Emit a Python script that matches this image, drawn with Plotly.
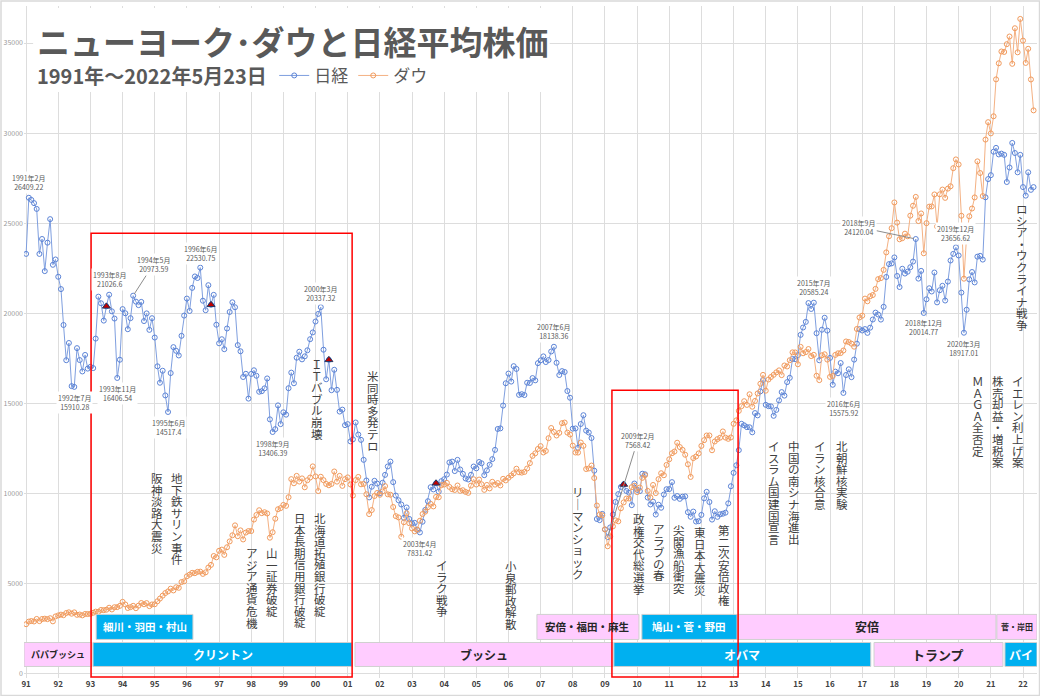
import pandas as pd
import plotly.graph_objects as go

# 月末終値 1991年1月〜2022年5月
months = pd.date_range("1991-01-01", "2022-05-01", freq="MS")

nikkei = [
    23293, 26409, 26292, 26111, 25790, 23291, 24121, 22336, 23916, 25222, 22687, 22984,
    22023, 21339, 19346, 17391, 18348, 15952, 15910, 18061, 17399, 16767, 17684, 16925,
    17024, 16953, 18591, 20919, 20552, 19590, 20380, 21027, 20106, 19704, 16407, 17417,
    20229, 19997, 19112, 19725, 20974, 20644, 20449, 20629, 19564, 19990, 19076, 19723,
    18650, 17053, 16140, 16807, 15437, 14517, 16678, 18117, 17913, 17655, 18744, 19868,
    20813, 20125, 21407, 22041, 21956, 22531, 20693, 20167, 21556, 20467, 21020, 19361,
    18330, 18557, 18003, 19151, 20069, 20605, 20331, 18229, 17888, 16459, 16636, 15259,
    16628, 16832, 16527, 15641, 15671, 15830, 16379, 14108, 13406, 13564, 14884, 13842,
    14499, 14368, 15837, 16702, 16112, 17530, 17862, 17437, 17606, 17942, 18558, 18934,
    19540, 19960, 20337, 17974, 16332, 17411, 15727, 16861, 15747, 14540, 14649, 13786,
    13844, 12884, 12999, 13934, 13262, 12969, 11861, 10714, 9775, 10367, 10697, 10543,
    9998, 10588, 11025, 11493, 11764, 10622, 9877, 9619, 9383, 8640, 9216, 8579,
    8340, 8363, 7973, 7831, 8425, 9083, 9563, 10344, 10219, 10560, 10101, 10677,
    10784, 11042, 11715, 11762, 11236, 11859, 11326, 11082, 10824, 10771, 11031, 11489,
    11388, 11741, 11669, 11009, 11277, 11584, 11900, 12414, 13574, 13607, 14872, 16111,
    16650, 16205, 17060, 16906, 15467, 15505, 15457, 16141, 16128, 16399, 16274, 17226,
    17383, 17604, 17288, 17400, 17876, 18138, 17249, 16569, 16786, 16737, 15681, 15308,
    13592, 13603, 12526, 13850, 14339, 13481, 13377, 13073, 11260, 8577, 8512, 8860,
    7994, 7568, 8110, 8828, 9523, 9958, 10357, 10493, 10133, 10035, 9346, 10546,
    10198, 10126, 11090, 11057, 9769, 9383, 9537, 8824, 9369, 9202, 9937, 10229,
    10238, 10624, 9755, 9850, 9694, 9816, 9833, 8955, 8700, 8988, 8435, 8455,
    8803, 9723, 10084, 9521, 8543, 9007, 8695, 8840, 8870, 8928, 9446, 10395,
    11139, 11559, 12398, 13861, 13775, 13677, 13668, 13389, 14456, 14328, 15662, 16291,
    14915, 14841, 14828, 14304, 14632, 15162, 15621, 15425, 16174, 16414, 17460, 17451,
    17674, 18798, 19207, 19520, 20563, 20236, 20585, 18890, 17388, 19083, 19747, 19034,
    17518, 16027, 16759, 16666, 17235, 15576, 16569, 16887, 16450, 17425, 18308, 19114,
    19041, 19119, 18909, 19197, 19651, 20033, 19925, 19646, 20356, 22012, 22725, 22765,
    23098, 22068, 21454, 22468, 22202, 22305, 22554, 22865, 24120, 21920, 22351, 20015,
    20773, 21385, 21206, 22259, 20601, 21276, 21522, 20704, 21756, 22927, 23294, 23657,
    23205, 21143, 18917, 20194, 21878, 22288, 21710, 23140, 23185, 22977, 26434, 27444,
    27663, 28966, 29179, 28813, 28860, 28792, 27284, 28090, 29453, 28893, 27822, 28792,
    27002, 26527, 27821, 26848, 27001,
]

dow = [
    2736, 2882, 2914, 2888, 3028, 2907, 3025, 3044, 3017, 3069, 2895, 3169,
    3224, 3268, 3236, 3359, 3397, 3319, 3394, 3257, 3272, 3226, 3305, 3301,
    3310, 3371, 3435, 3428, 3527, 3516, 3540, 3651, 3555, 3681, 3684, 3754,
    3978, 3832, 3636, 3682, 3758, 3625, 3765, 3913, 3843, 3908, 3739, 3834,
    3844, 4011, 4158, 4321, 4465, 4556, 4709, 4611, 4789, 4756, 5075, 5117,
    5395, 5486, 5588, 5569, 5643, 5655, 5529, 5616, 5882, 6029, 6522, 6448,
    6813, 6878, 6584, 7009, 7331, 7673, 8223, 7622, 7945, 7442, 7823, 7908,
    7907, 8546, 8800, 9063, 8900, 8952, 8883, 7539, 7843, 8592, 9117, 9181,
    9359, 9307, 9786, 10789, 10560, 10971, 10655, 10829, 10337, 10729, 10878, 11497,
    10941, 10128, 10922, 10734, 10522, 10448, 10522, 11215, 10651, 10971, 10415, 10788,
    10887, 10495, 9879, 10735, 10912, 10502, 10523, 9950, 8848, 9075, 9852, 10022,
    9920, 10106, 10404, 9946, 9925, 9243, 8737, 8664, 7592, 8397, 8896, 8342,
    8054, 7891, 7992, 8480, 8850, 8985, 9234, 9416, 9275, 9801, 9782, 10454,
    10488, 10584, 10358, 10226, 10188, 10435, 10140, 10174, 10080, 10027, 10428, 10783,
    10490, 10766, 10504, 10193, 10467, 10275, 10641, 10482, 10569, 10440, 10806, 10718,
    10865, 10993, 11109, 11367, 11168, 11150, 11186, 11381, 11679, 12081, 12222, 12463,
    12622, 12269, 12354, 13063, 13628, 13409, 13212, 13358, 13896, 13930, 13372, 13265,
    12650, 12266, 12263, 12820, 12638, 11350, 11378, 11544, 10851, 9325, 8829, 8776,
    8001, 7063, 7609, 8168, 8500, 8447, 9172, 9496, 9712, 9713, 10345, 10428,
    10067, 10325, 10857, 11009, 10137, 9774, 10466, 10015, 10788, 11118, 11006, 11578,
    11892, 12226, 12320, 12811, 12570, 12414, 12143, 11614, 10913, 11955, 12046, 12218,
    12633, 12952, 13212, 13214, 12393, 12880, 13009, 13091, 13437, 13096, 13026, 13104,
    13861, 14054, 14579, 14840, 15116, 14910, 15500, 14810, 15130, 15546, 16086, 16577,
    15699, 16322, 16458, 16581, 16717, 16827, 16563, 17098, 17043, 17391, 17828, 17823,
    17165, 18133, 17776, 17841, 18011, 17620, 17690, 16528, 16285, 17664, 17720, 17425,
    16466, 16517, 17685, 17774, 17787, 17930, 18432, 18401, 18308, 18142, 19124, 19763,
    19864, 20812, 20663, 20941, 21009, 21350, 21891, 21948, 22405, 23377, 24272, 24719,
    26149, 25029, 24103, 24163, 24416, 24271, 25415, 25965, 26458, 25116, 25538, 23327,
    24999, 25916, 25929, 26593, 24815, 26600, 26864, 26403, 26917, 27046, 28051, 28538,
    28256, 25409, 21917, 24346, 25383, 25813, 26428, 28430, 27782, 26502, 29639, 30606,
    29983, 30932, 32982, 33875, 34529, 34503, 34935, 35361, 33844, 35820, 34484, 36338,
    35132, 33893, 34678, 32977, 31261,
]

# 日経の注目点(▲)
marked_months = ["1993-07", "1996-10", "2000-06", "2003-10", "2009-08"]

# データラベル
label_months = ["1991-02", "1992-07", "1993-08", "1993-11", "1994-05", "1995-06",
                "1996-06", "1998-09", "2000-03", "2003-04", "2007-06", "2009-02",
                "2015-07", "2016-06", "2018-09", "2018-12", "2019-12", "2020-03"]
label_values = ["26409.22", "15910.28", "21026.6", "16406.54", "20973.59", "14517.4",
                "22530.75", "13406.39", "20337.32", "7831.42", "18138.36", "7568.42",
                "20585.24", "15575.92", "24120.04", "20014.77", "23656.62", "18917.01"]
# (ax, ay) px: 引き出し線付きのラベル以外は上下に置く
label_offsets = [(0, -15), (0, 16), (0, -15), (0, 16), (20, -31), (0, 16),
                 (0, -14), (0, 16), (0, -14), (0, 16), (0, -15), (30, -97),
                 (0, -15), (0, 16), (-57, -12), (0, 15), (0, -14), (0, 16)]
leader = {"1994-05", "2009-02", "2018-09"}

# 出来事(縦書き)
event_texts = ["阪神淡路大震災", "地下鉄サリン事件", "アジア通貨危機", "山一証券破綻",
               "日本長期信用銀行破綻", "北海道拓殖銀行破綻", "ＩＴバブル崩壊", "米同時多発テロ",
               "イラク戦争", "小泉郵政解散", "リ｜マンショック", "政権交代総選挙",
               "アラブの春", "尖閣漁船衝突", "東日本大震災", "第二次安倍政権",
               "イスラム国建国宣言", "中国の南シナ海進出", "イラン核合意", "北朝鮮核実験",
               "ＭＡＧＡ全否定", "株売却益・増税案", "イエレン利上げ案", "ロシア・ウクライナ戦争"]
event_dates = ["1995-01-26", "1995-09-13", "1998-01-12", "1998-08-25",
               "1999-07-09", "2000-02-21", "2000-01-19", "2001-10-16",
               "2003-12-10", "2006-01-30", "2008-02-28", "2010-01-23",
               "2010-09-06", "2011-04-20", "2011-12-17", "2012-09-13",
               "2014-04-05", "2014-11-18", "2015-09-10", "2016-05-16",
               "2020-08-08", "2021-03-22", "2021-11-07", "2021-12-20"]
event_tops = [10850, 10850, 6690, 6690, 8630, 8630, 17180, 16510,
              6020, 5970, 10050, 8580, 8020, 7970, 7860, 7970,
              12630, 12630, 12630, 12630, 16240, 16240, 16240, 25780]

# 米大統領
us_names = ["パパブッシュ", "クリントン", "ブッシュ", "オバマ", "トランプ", "バイ"]
us_start = ["1990-12-08", "1993-01-30", "2001-03-25", "2009-04-12", "2017-05-15", "2021-06-10"]
us_end = ["1993-01-18", "2001-02-20", "2009-04-01", "2017-04-08", "2021-05-18", "2022-06-09"]
us_blue = [False, True, False, True, False, True]
us_size = [9, 12, 12, 12, 13, 12]

# 日本の首相
jp_names = ["細川・羽田・村山", "安倍・福田・麻生", "鳩山・菅・野田", "安倍", "菅・岸田"]
jp_start = ["1993-03-07", "2006-11-20", "2010-02-24", "2013-02-20", "2021-03-10"]
jp_end = ["1996-03-10", "2010-01-22", "2013-02-09", "2021-02-28", "2022-06-09"]
jp_blue = [True, False, True, False, False]
jp_size = [10.5, 10.5, 10.5, 12, 8]

FONT = "Noto Sans CJK JP"
PINK = "#FFCCFF"
BLUE = "#00B0F0"

nk = pd.Series(nikkei, index=months)

fig = go.Figure()

fig.add_trace(go.Scatter(
    x=months, y=nikkei, name="日経", mode="lines+markers",
    line=dict(color="#7F9FDF", width=1),
    marker=dict(symbol="circle-open", size=5, color="#5B83D6", line=dict(width=1)),
))
fig.add_trace(go.Scatter(
    x=months, y=dow, name="ダウ", mode="lines+markers",
    line=dict(color="#F4B183", width=1),
    marker=dict(symbol="circle-open", size=5, color="#F19A5C", line=dict(width=1)),
))
mk = pd.to_datetime(marked_months)
fig.add_trace(go.Scatter(
    x=mk, y=nk[mk].values, mode="markers", showlegend=False,
    marker=dict(symbol="triangle-up", size=7, color="#C00000",
                line=dict(color="#1F3864", width=1)),
))

shapes = []
annotations = []

# 政権バー
for names, starts, ends, blues, sizes, y0, y1 in [
    (us_names, us_start, us_end, us_blue, us_size, 390, 1720),
    (jp_names, jp_start, jp_end, jp_blue, jp_size, 1890, 3280),
]:
    for n, s, e, b, fs in zip(names, starts, ends, blues, sizes):
        shapes.append(dict(type="rect", xref="x", yref="y", x0=s, x1=e, y0=y0, y1=y1,
                           fillcolor=BLUE if b else PINK,
                           line=dict(color="#D0D0D0", width=1), layer="above"))
        mid = pd.Timestamp(s) + (pd.Timestamp(e) - pd.Timestamp(s)) / 2
        annotations.append(dict(x=mid, y=(y0 + y1) / 2, text=n, showarrow=False,
                                font=dict(family=FONT, size=fs, weight="bold",
                                          color="white" if b else "#262626")))

# 赤枠
shapes.append(dict(type="rect", xref="x", yref="y", x0="1993-01-08", x1="2001-02-20",
                   y0=-200, y1=24440, line=dict(color="#FF0000", width=1.5), layer="above"))
shapes.append(dict(type="rect", xref="x", yref="y", x0="2009-03-21", x1="2013-02-21",
                   y0=-200, y1=15720, line=dict(color="#FF0000", width=1.5), layer="above"))

# タイトル背景
shapes.append(dict(type="rect", xref="paper", yref="paper", x0=0.009, x1=0.519,
                   y0=0.872, y1=0.997, fillcolor="white", line=dict(width=0), layer="above"))
# 外枠
shapes.append(dict(type="rect", xref="paper", yref="paper", x0=-0.0227, x1=1.0025,
                   y0=-0.0262, y1=1.0074, line=dict(color="#D9D9D9", width=1.5)))

# データラベル
for m, v, (ax, ay) in zip(label_months, label_values, label_offsets):
    y, mo = m.split("-")
    txt = f"{y}年{int(mo)}月<br>{v}"
    xv = pd.Timestamp(m + "-01")
    ann = dict(x=xv, y=nk[xv], text=txt, bgcolor="white",
               font=dict(family=FONT, size=7, color="#595959"))
    if m in leader:
        ann.update(showarrow=True, ax=ax, ay=ay, arrowhead=0, arrowwidth=1,
                   arrowcolor="#8C8C8C", standoff=2)
    else:
        ann.update(showarrow=False, yshift=-ay)
    annotations.append(ann)

# 縦書きの出来事
for t, d, top in zip(event_texts, event_dates, event_tops):
    for i, ch in enumerate(t):
        annotations.append(dict(x=d, y=top, text=ch, showarrow=False, yshift=-i * 11.6,
                                font=dict(family=FONT, size=11.5, color="#404040")))

annotations.append(dict(xref="paper", yref="paper", x=0.011, y=0.948, xanchor="left",
                        yanchor="middle", showarrow=False,
                        text="ニューヨーク･ダウと日経平均株価",
                        font=dict(family=FONT, size=33, weight="bold", color="#595959")))
annotations.append(dict(xref="paper", yref="paper", x=0.011, y=0.896, xanchor="left",
                        yanchor="middle", showarrow=False,
                        text="1991年～2022年5月23日",
                        font=dict(family=FONT, size=20, weight="bold", color="#595959")))

fig.update_layout(
    width=1040, height=696,
    margin=dict(l=24, r=3, t=6, b=18),
    paper_bgcolor="white", plot_bgcolor="white",
    font=dict(family=FONT),
    showlegend=True,
    legend=dict(orientation="h", x=0.247, y=0.896, xanchor="left", yanchor="middle",
                bgcolor="rgba(0,0,0,0)", font=dict(family=FONT, size=17, color="#595959"),
                itemwidth=30),
    shapes=shapes,
    annotations=annotations,
)
fig.update_xaxes(
    range=["1990-12-08", "2022-06-09"], dtick="M12", tick0="1991-01-01", tickformat="%y",
    showgrid=True, gridcolor="#DDDDDD", gridwidth=1, zeroline=False, showline=False,
    tickfont=dict(size=8, color="#404040", weight="bold"), ticks="", automargin=False,
)
fig.update_yaxes(
    range=[-250, 37054], tickvals=list(range(0, 35001, 5000)), tickformat="d",
    showgrid=True, gridcolor="#DDDDDD", gridwidth=1, zeroline=False, showline=False,
    tickfont=dict(size=7, color="#999999"), ticks="", automargin=False,
)

fig.write_html("out.html", config={"displayModeBar": False},
               post_script="document.body.style.margin='0';")
